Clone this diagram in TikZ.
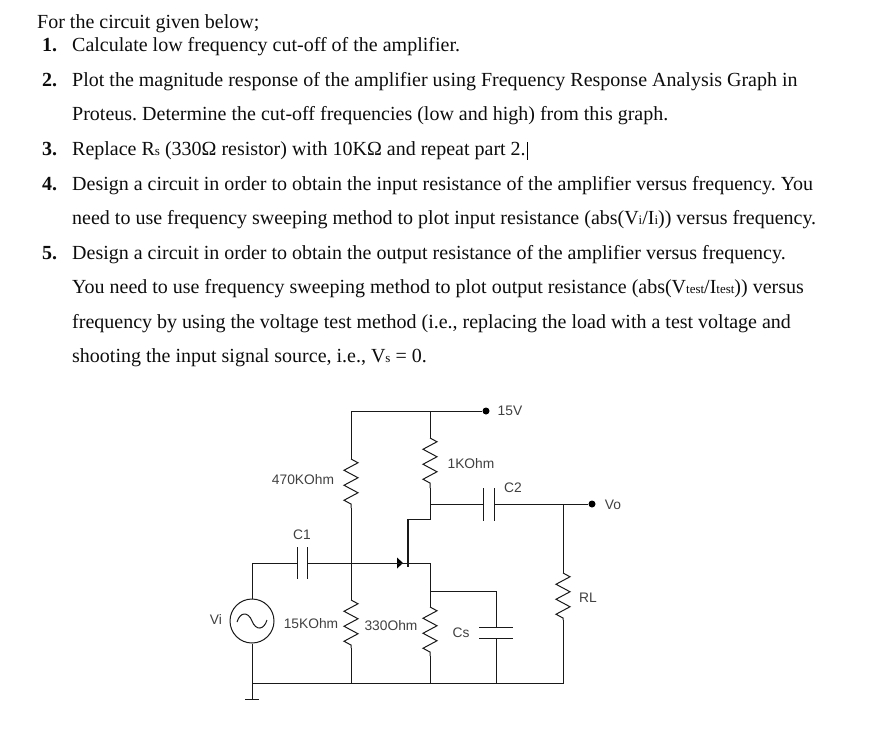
\documentclass[tikz,border=0pt]{standalone}
\usepackage{fontspec}
\setmainfont{Liberation Serif}
\newfontfamily\lab{Liberation Sans}
\usetikzlibrary{decorations.pathmorphing}
\newcommand{\sm}[1]{{\fontsize{13}{13}\selectfont #1}}
\frenchspacing
\tikzset{
 txt/.style={anchor=base west,inner sep=0pt,font=\fontsize{20}{22}\selectfont\frenchspacing,text=black!95},
 num/.style={anchor=base west,inner sep=0pt,font=\fontsize{20}{22}\selectfont\bfseries,text=black!95},
 lbl/.style={anchor=base,inner sep=0pt,font=\lab\fontsize{13.8}{14}\selectfont,text=black!75},
 wire/.style={line width=1pt,black!90},
 res/.style={line width=1pt,black!90,decorate,decoration={zigzag,segment length=15pt,amplitude=7pt}},
 pin/.style={circle,fill=black,inner sep=0pt,minimum size=7pt},
}
\begin{document}
\begin{tikzpicture}[x=1pt,y=-1pt]
\useasboundingbox (0,0) rectangle (893,732);
% text
\node[txt] (l0) at (37,28) {For the circuit given below;};
\node[num] (n1) at (42,51) {1.};
\node[txt] (l1) at (72,51) {Calculate low frequency cut-off of the amplifier.};
\node[num] (n2) at (42,86) {2.};
\node[txt] (l2) at (72,86) {Plot the magnitude response of the amplifier using Frequency Response Analysis Graph in};
\node[txt] (l3) at (72,120) {Proteus. Determine the cut-off frequencies (low and high) from this graph.};
\node[num] (n3) at (42,155) {3.};
\node[txt] (l4) at (72,155) {Replace R\sm{s} (330Ω resistor) with 10KΩ and repeat part 2.};
\node[num] (n4) at (42,190) {4.};
\node[txt] (l5) at (72,190) {Design a circuit in order to obtain the input resistance of the amplifier versus frequency. You};
\node[txt] (l6) at (72,224) {need to use frequency sweeping method to plot input resistance (abs(V\sm{i}/I\sm{i})) versus frequency.};
\node[num] (n5) at (42,259) {5.};
\node[txt] (l7) at (72,259) {Design a circuit in order to obtain the output resistance of the amplifier versus frequency.};
\node[txt] (l8) at (72,293) {You need to use frequency sweeping method to plot output resistance (abs(V\sm{test}/I\sm{test})) versus};
\node[txt] (l9) at (72,328) {frequency by using the voltage test method (i.e., replacing the load with a test voltage and};
\node[txt] (l10) at (72,362) {shooting the input signal source, i.e., V\sm{s} = 0.};
\draw[line width=0.8pt] (l4.east) ++(1,-8) coordinate (cur) -- ++(0,18);
% coordinates
\foreach \n/\x/\y in {tl/351/411, tr/430/411, ra/351/459, rb/351/508, rc/430/438, rd/430/488,
 dj/430/504, c2a/483/504, c2b/494/504, oj/563/504, dk/430/519, dch/408/519,
 s1/252/563, c1a/297/563, c1b/307/563, gj/351/563, gt/397/563, chb/408/567, sj/408/563, sk/430/563,
 sb/430/591, cb/496/591, cp1/496/627, cp2/496/638, r3a/430/607, r3b/430/656, g3/430/683,
 r2a/351/600, r2b/351/648, g2/351/683, g4/496/683, rla/563/573, rlb/563/620, g5/563/683,
 g1/252/683, g0/252/699}
 {\coordinate (\n) at (\x,\y);}
\node[pin] (p15) at (486,411) {};
\node[pin] (pvo) at (592,504) {};
\node[circle,draw=black!90,line width=1pt,minimum size=44pt,inner sep=0pt] (vs) at (252,621) {};
% wires
\draw[wire] (p15) -- (tl) -- (ra);
\draw[res] (ra) -- (rb);
\draw[wire] (rb) -- (r2a);
\draw[res] (r2a) -- (r2b);
\draw[wire] (r2b) -- (g2);
\draw[wire] (tr) -- (rc);
\draw[res] (rc) -- (rd);
\draw[wire] (rd) -- (dk) -- (dch);
\draw[wire,line width=1.5pt] (dch) -- (chb);
\draw[wire] (dj) -- (c2a);
\draw[wire] (c2b) -- (pvo);
\draw[wire] (c2a)++(0,-16) -- ++(0,33);
\draw[wire] (c2b)++(0,-16) -- ++(0,33);
\draw[wire] (vs.north) -- (s1) -- (c1a);
\draw[wire] (c1a)++(0,-16) -- ++(0,32);
\draw[wire] (c1b)++(0,-16) -- ++(0,32);
\draw[wire] (c1b) -- (gt);
\draw[fill=black,draw=none] (gt)++(0,-5.5) -- ++(6,5.5) -- ++(-6,5.5) -- cycle;
\draw[wire] (gt) -- (sj) -- (sk) -- (r3a);
\draw[res] (r3a) -- (r3b);
\draw[wire] (r3b) -- (g3);
\draw[wire] (sb) -- (cb) -- (cp1);
\draw[wire] (cp1)++(-17,0) -- ++(34,0);
\draw[wire] (cp2)++(-17,0) -- ++(34,0);
\draw[wire] (cp2) -- (g4);
\draw[wire] (oj) -- (rla);
\draw[res] (rla) -- (rlb);
\draw[wire] (rlb) -- (g5) -- (g1);
\draw[wire] (vs.south) -- (g0);
\draw[wire] (g0)++(-7,0) -- ++(14,0);
\draw[wire] (237,622) .. controls (240,612) and (248,611) .. (252,621) .. controls (256,631) and (264,630) .. (267,620);
% labels
\node[lbl] (t15) at (510,415) {15V};
\node[lbl] (t470) at (303,484) {470KOhm};
\node[lbl] (t1k) at (471,468) {1KOhm};
\node[lbl] (tc2) at (513,492) {C2};
\node[lbl] (tvo) at (613,509) {Vo};
\node[lbl] (tc1) at (302,539) {C1};
\node[lbl] (tvi) at (216,624) {Vi};
\node[lbl] (t15k) at (311,628) {15KOhm};
\node[lbl] (t330) at (391,630) {330Ohm};
\node[lbl] (tcs) at (461,637) {Cs};
\node[lbl] (trl) at (588,602) {RL};
\end{tikzpicture}
\end{document}
